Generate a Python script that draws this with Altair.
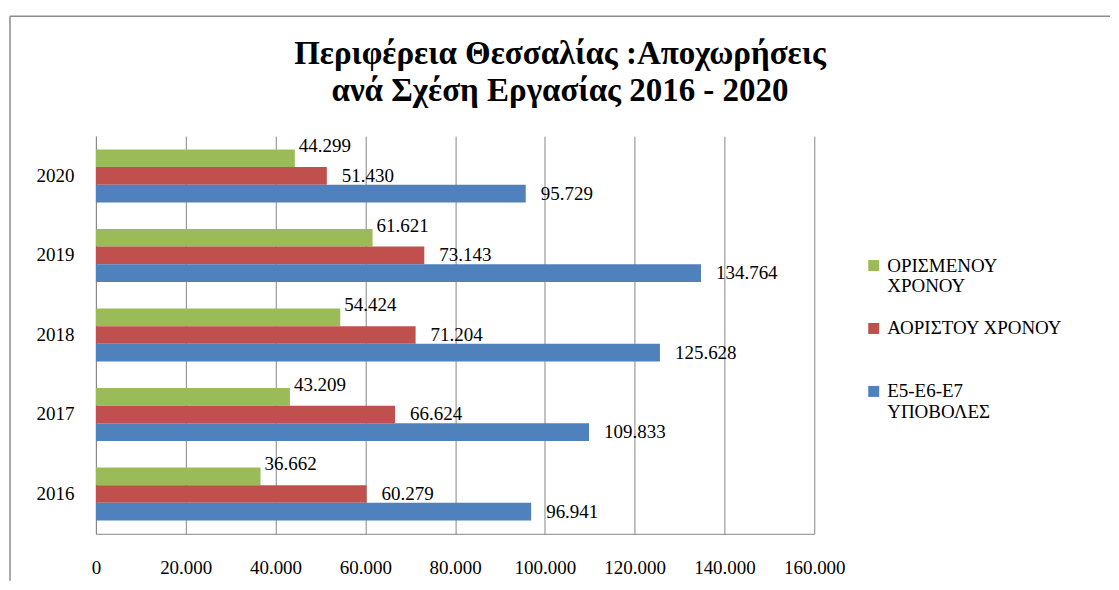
import altair as alt
import pandas as pd

years = ["2016", "2017", "2018", "2019", "2020"]
series = ["ΟΡΙΣΜΕΝΟΥ ΧΡΟΝΟΥ", "ΑΟΡΙΣΤΟΥ ΧΡΟΝΟΥ", "Ε5-Ε6-Ε7 ΥΠΟΒΟΛΕΣ"]
orismenou = [36662, 43209, 54424, 61621, 44299]
aoristou = [60279, 66624, 71204, 73143, 51430]
e5e6e7 = [96941, 109833, 125628, 134764, 95729]
colors = ["#9BBB59", "#C0504D", "#4F81BD"]
x_ticks = [0, 20000, 40000, 60000, 80000, 100000, 120000, 140000, 160000]
title_lines = ["Περιφέρεια Θεσσαλίας :Αποχωρήσεις", "ανά Σχέση Εργασίας 2016 - 2020"]

rows = []
for s, vals in zip(series, [orismenou, aoristou, e5e6e7]):
    for y, v in zip(years, vals):
        rows.append({"year": y, "series": s, "value": v})
df = pd.DataFrame(rows)

FONT = "Liberation Serif"
GRID = "#868686"

base = alt.Chart(df).transform_calculate(
    label="replace(format(datum.value, ','), ',', '.')"
)

y_enc = alt.Y(
    "year:N",
    sort=years[::-1],
    scale=alt.Scale(paddingInner=0.334, paddingOuter=0.167),
    axis=alt.Axis(title=None, ticks=False, labelPadding=22, labelFont=FONT,
                  labelFontSize=19, labelColor="black", domainColor=GRID),
)
yoff = alt.YOffset("series:N", sort=series, scale=alt.Scale(domain=series))
x_enc = alt.X(
    "value:Q",
    scale=alt.Scale(domain=[0, 160000], nice=False),
    axis=alt.Axis(title=None, values=x_ticks, ticks=False, labelPadding=25,
                  labelBaseline="top", labelFont=FONT, labelFontSize=19,
                  labelColor="black", gridColor=GRID, domainColor=GRID,
                  labelOverlap=False, labelFlush=False,
                  labelExpr="replace(format(datum.value, ','), ',', '.')"),
)

bars = base.mark_bar().encode(
    x=x_enc,
    y=y_enc,
    yOffset=yoff,
    color=alt.Color(
        "series:N",
        sort=series,
        scale=alt.Scale(domain=series, range=colors),
        legend=alt.Legend(
            title=None, orient="none", legendX=769, legendY=120,
            symbolType="square", symbolSize=121, symbolStrokeWidth=0,
            labelFont=FONT, labelFontSize=19, labelColor="black",
            labelOffset=4, labelLimit=400, rowPadding=22, padding=0,
            labelExpr="datum.label == 'ΑΟΡΙΣΤΟΥ ΧΡΟΝΟΥ' ? [datum.label, ' '] : split(datum.label, ' ')",
        ),
    ),
)

labels_green = base.transform_filter(
    alt.datum.series == series[0]
).mark_text(align="left", baseline="middle", dx=4, dy=-12, font=FONT,
            fontSize=19, color="black").encode(
    x="value:Q", y=alt.Y("year:N", sort=years[::-1]), yOffset=yoff, text="label:N"
)

labels_other = base.transform_filter(
    alt.datum.series != series[0]
).mark_text(align="left", baseline="middle", dx=15, font=FONT,
            fontSize=19, color="black").encode(
    x="value:Q", y=alt.Y("year:N", sort=years[::-1]), yOffset=yoff, text="label:N"
)

frame_df = pd.DataFrame({"k": [0]})
frame_top = alt.Chart(frame_df).mark_rule(color="#8c8c8c", strokeWidth=1.5).encode(
    x=alt.value(-86), x2=alt.value(1015), y=alt.value(-120)
)
frame_left = alt.Chart(frame_df).mark_rule(color="#8c8c8c", strokeWidth=1.5).encode(
    x=alt.value(-86), y=alt.value(-120), y2=alt.value(445)
)

chart = alt.layer(bars, labels_green, labels_other, frame_top, frame_left).properties(
    width=719,
    height=398,
    padding={"left": 1, "top": 7, "right": 0, "bottom": 0},
    title=alt.TitleParams(
        title_lines, font=FONT, fontSize=33, fontWeight="bold", color="black",
        anchor="middle", dx=105, offset=-93, lineHeight=37,
    ),
).configure_view(stroke=None)

chart.save("out.html", embed_options={"renderer": "svg", "actions": False})
